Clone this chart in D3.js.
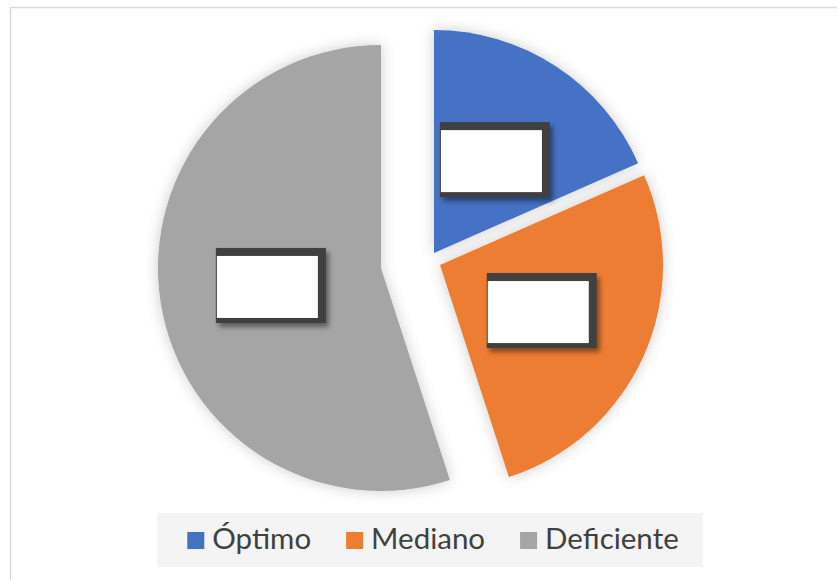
<!DOCTYPE html>
<html>
<head>
<meta charset="utf-8">
<script src="https://cdn.jsdelivr.net/npm/d3@7"></script>
<style>
  body { margin: 0; background: #fff; }
  text { font-family: Lato, "Open Sans", sans-serif; }
</style>
</head>
<body>
<div id="viz"></div>
<script>
// data
const categories = ["Óptimo", "Mediano", "Deficiente"];
const values = [18.4, 26.6, 55.0];
const colors = ["#4472C4", "#ED7D31", "#A5A5A5"];

// how far each slice is pulled out of the pie
const explode = [[5, -7], [11, 5], [-48, 8]];

const width = 837;
const height = 580;
const cx = 429, cy = 260, radius = 223;

const svg = d3.select("#viz").append("svg")
    .attr("width", width)
    .attr("height", height)

const defs = svg.append("defs");

const glow = defs.append("filter").attr("id", "glow")
    .attr("x", "-20%").attr("y", "-20%").attr("width", "140%").attr("height", "140%");
glow.append("feGaussianBlur").attr("in", "SourceAlpha").attr("stdDeviation", 7).attr("result", "blur");
glow.append("feFlood").attr("flood-color", "#000").attr("flood-opacity", 0.2);
glow.append("feComposite").attr("in2", "blur").attr("operator", "in").attr("result", "shadow");
const gm = glow.append("feMerge");
gm.append("feMergeNode").attr("in", "shadow");
gm.append("feMergeNode").attr("in", "SourceGraphic");

const boxShadow = defs.append("filter").attr("id", "boxShadow")
    .attr("x", "-20%").attr("y", "-20%").attr("width", "140%").attr("height", "140%");
boxShadow.append("feGaussianBlur").attr("in", "SourceAlpha").attr("stdDeviation", 2.5).attr("result", "blur");
boxShadow.append("feOffset").attr("in", "blur").attr("dx", 3).attr("dy", 4).attr("result", "off");
boxShadow.append("feFlood").attr("flood-color", "#000").attr("flood-opacity", 0.45);
boxShadow.append("feComposite").attr("in2", "off").attr("operator", "in").attr("result", "shadow");
const bm = boxShadow.append("feMerge");
bm.append("feMergeNode").attr("in", "shadow");
bm.append("feMergeNode").attr("in", "SourceGraphic");

// chart frame (runs off the right and bottom of the picture)
svg.append("rect")
    .attr("x", 10.5).attr("y", 7.5)
    .attr("width", 900).attr("height", 700)
    .attr("fill", "#fff")
    .attr("stroke", "#d9d9d9")
    .attr("stroke-width", 1.5)

const pie = d3.pie().sort(null).value(d => d)(values);
const arc = d3.arc().innerRadius(0).outerRadius(radius);

const pieG = svg.append("g")
    .attr("transform", `translate(${cx},${cy})`)
    .attr("filter", "url(#glow)")

pieG.selectAll("path")
    .data(pie)
    .enter()
    .append("path")
    .attr("d", arc)
    .attr("fill", (d, i) => colors[i])
    .attr("transform", (d, i) => `translate(${explode[i][0]},${explode[i][1]})`)

// empty data label boxes
const boxW = 110, boxH = 75;
const labels = svg.append("g")
    .attr("transform", `translate(${cx},${cy})`)
    .selectAll("g")
    .data(pie)
    .enter()
    .append("g")
    .attr("transform", (d, i) => {
        const c = arc.centroid(d);
        return `translate(${c[0] + explode[i][0]},${c[1] + explode[i][1]})`;
    })

labels.append("rect")
    .attr("x", -boxW / 2).attr("y", -boxH / 2)
    .attr("width", boxW).attr("height", boxH)
    .attr("fill", "#404040")
    .attr("filter", "url(#boxShadow)")

labels.append("rect")
    .attr("x", -boxW / 2 + 1).attr("y", -boxH / 2 + 8)
    .attr("width", boxW - 9).attr("height", boxH - 13)
    .attr("fill", "#fff")

// legend
svg.append("rect")
    .attr("x", 157).attr("y", 513)
    .attr("width", 546).attr("height", 54)
    .attr("fill", "#f4f4f4")

const legend = svg.append("g");
let lx = 0;
categories.forEach((c, i) => {
    const item = legend.append("g").attr("transform", `translate(${lx},0)`);
    item.append("rect")
        .attr("x", 0).attr("y", 532)
        .attr("width", 17).attr("height", 17)
        .attr("fill", colors[i])
    const t = item.append("text")
        .attr("x", 25).attr("y", 549)
        .attr("font-size", 29.5)
        .attr("fill", "#404040")
        .text(c)
    lx += 25 + t.node().getComputedTextLength() + 35;
});
const legendW = lx - 35;
legend.attr("transform", `translate(${433 - legendW / 2},0)`);
</script>
</body>
</html>
